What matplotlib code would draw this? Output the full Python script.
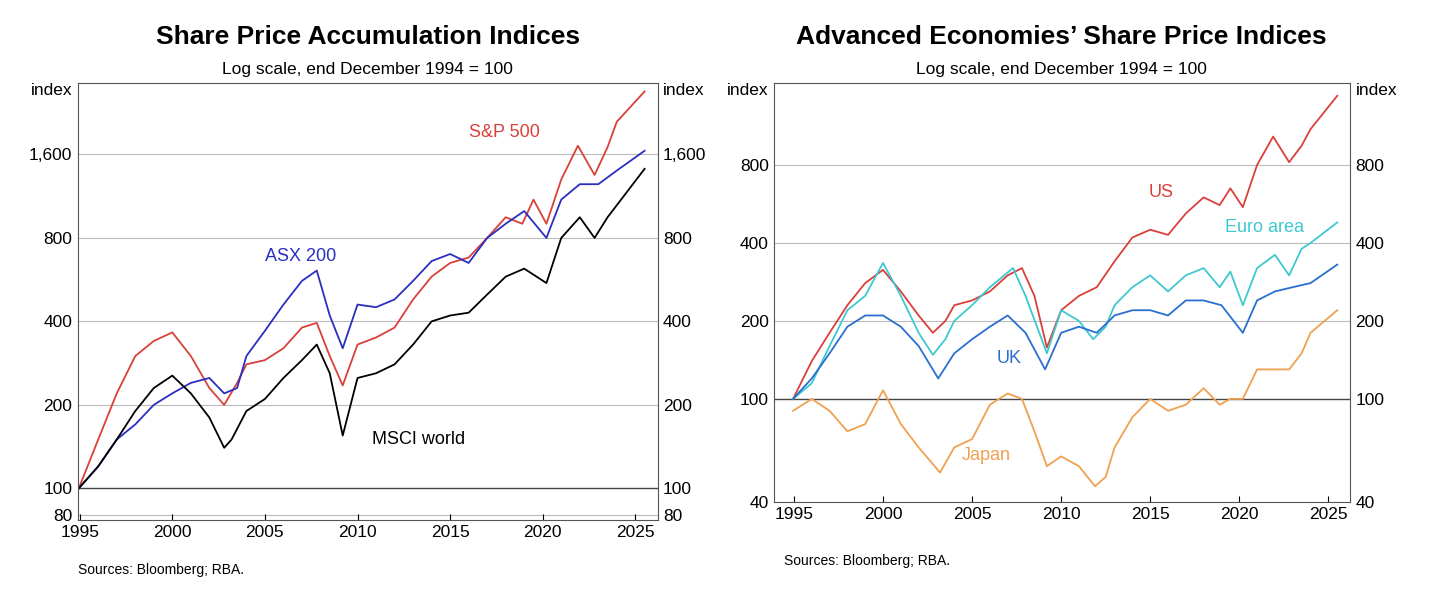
import matplotlib
matplotlib.use("Agg")
import matplotlib.pyplot as plt
from matplotlib.ticker import FixedLocator, NullLocator

plt.rcParams['font.family'] = ['Liberation Sans', 'DejaVu Sans']

# ---- Left chart data ----
sp_x = [1994.95,1996,1997,1998,1999,2000,2001,2002,2002.8,2003.5,2004,2005,2006,2007,2007.8,2008.5,2009.2,2010,2011,2012,2013,2014,2015,2016,2017,2018,2018.9,2019.5,2020.2,2021,2021.9,2022.8,2023.5,2024,2025.5]
sp_y = [100,150,220,300,340,365,300,230,200,240,280,290,320,380,395,300,235,330,350,380,480,580,650,680,800,950,900,1100,900,1300,1720,1350,1700,2100,2700]
asx_x = [1994.95,1996,1997,1998,1999,2000,2001,2002,2002.8,2003.5,2004,2005,2006,2007,2007.8,2008.5,2009.2,2010,2011,2012,2013,2014,2015,2016,2017,2018,2019,2020.2,2021,2022,2023,2024,2025.5]
asx_y = [100,120,150,170,200,220,240,250,220,230,300,370,460,560,610,420,320,460,450,480,560,660,700,650,800,900,1000,800,1100,1250,1250,1400,1650]
msci_x = [1994.95,1996,1997,1998,1999,2000,2001,2002,2002.8,2003.2,2004,2005,2006,2007,2007.8,2008.5,2009.2,2010,2011,2012,2013,2014,2015,2016,2017,2018,2019,2020.2,2021,2022,2022.8,2023.5,2024,2025.5]
msci_y = [100,120,150,190,230,255,220,180,140,150,190,210,250,290,330,260,155,250,260,280,330,400,420,430,500,580,620,550,800,950,800,950,1050,1420]

# ---- Right chart data ----
us_x = [1994.95,1996,1997,1998,1999,2000,2001,2002,2002.8,2003.5,2004,2005,2006,2007,2007.8,2008.5,2009.2,2010,2011,2012,2013,2014,2015,2016,2017,2018,2018.9,2019.5,2020.2,2021,2021.9,2022.8,2023.5,2024,2025.5]
us_y = [100,140,180,230,280,315,260,210,180,200,230,240,260,300,320,250,158,220,250,270,340,420,450,430,520,600,560,650,550,800,1030,820,950,1100,1480]
eu_x = [1994.95,1996,1997,1998,1999,2000,2001,2002,2002.8,2003.5,2004,2005,2006,2007.3,2008,2009.2,2010,2011,2011.8,2012.5,2013,2014,2015,2016,2017,2018,2018.9,2019.5,2020.2,2021,2022,2022.8,2023.5,2024,2025.5]
eu_y = [100,115,160,220,250,335,250,180,148,170,200,230,270,320,250,150,220,200,170,190,230,270,300,260,300,320,270,310,230,320,360,300,380,400,480]
uk_x = [1994.95,1996,1997,1998,1999,2000,2001,2002,2003.1,2004,2005,2006,2007,2008,2009.1,2010,2011,2012,2013,2014,2015,2016,2017,2018,2019,2020.2,2021,2022,2023,2024,2025.5]
uk_y = [100,120,150,190,210,210,190,160,120,150,170,190,210,180,130,180,190,180,210,220,220,210,240,240,230,180,240,260,270,280,330]
jp_x = [1994.95,1996,1997,1998,1999,2000,2001,2002,2003.2,2004,2005,2006,2007,2007.8,2008.5,2009.2,2010,2011,2011.9,2012.5,2013,2014,2015,2016,2017,2018,2018.9,2019.5,2020.2,2021,2022,2022.8,2023.5,2024,2025.5]
jp_y = [90,100,90,75,80,108,80,65,52,65,70,95,105,100,75,55,60,55,46,50,65,85,100,90,95,110,95,100,100,130,130,130,150,180,220]

year_ticks = [1995, 2000, 2005, 2010, 2015, 2020, 2025]

fig = plt.figure(figsize=(14.42, 5.92), dpi=100)

def style(ax, yt, labels, ylim, xlim):
    ax.set_yscale('log')
    ax.set_ylim(*ylim)
    ax.set_xlim(*xlim)
    ax.yaxis.set_major_locator(FixedLocator(yt))
    ax.yaxis.set_minor_locator(NullLocator())
    ax.set_yticklabels(labels)
    ax.tick_params(axis='y', length=0, labelsize=12.5, right=True, labelright=True, pad=4)
    ax.set_xticks(year_ticks)
    ax.set_xticklabels([str(t) for t in year_ticks])
    ax.tick_params(axis='x', direction='in', length=4, labelsize=12.5, top=False)
    for s in ax.spines.values():
        s.set_color('#555555'); s.set_linewidth(0.8)
    for v in yt:
        if v != 100 and v > ylim[0]:
            ax.axhline(v, color='#bbbbbb', lw=0.8, zorder=0)
    ax.axhline(100, color='#444444', lw=1.0, zorder=1)
    ax.text(-0.01, 1.0, 'index', transform=ax.transAxes, ha='right', va='top', fontsize=12.5)
    ax.text(1.01, 1.0, 'index', transform=ax.transAxes, ha='left', va='top', fontsize=12.5)

# Left
ax1 = fig.add_axes([0.054, 0.122, 0.402, 0.738])
ax1.plot(sp_x, sp_y, color='#d9403a', lw=1.3)
ax1.plot(asx_x, asx_y, color='#2a2fc0', lw=1.3)
ax1.plot(msci_x, msci_y, color='black', lw=1.3)
style(ax1, [80, 100, 200, 400, 800, 1600], ['80', '100', '200', '400', '800', '1,600'], (77, 2900), (1994.9, 2026.2))
ax1.text(2016.0, 1850, 'S&P 500', color='#d9403a', fontsize=13)
ax1.text(2005.0, 660, 'ASX 200', color='#2a2fc0', fontsize=13)
ax1.text(2010.8, 145, 'MSCI world', color='black', fontsize=13)
fig.text(0.255, 0.925, 'Share Price Accumulation Indices', ha='center', fontsize=19, fontweight='bold')
fig.text(0.255, 0.875, 'Log scale, end December 1994 = 100', ha='center', fontsize=12.5)
fig.text(0.054, 0.03, 'Sources: Bloomberg; RBA.', fontsize=10)

# Right
ax2 = fig.add_axes([0.537, 0.152, 0.399, 0.708])
ax2.plot(us_x, us_y, color='#d9403a', lw=1.3)
ax2.plot(eu_x, eu_y, color='#3ec8d0', lw=1.3)
ax2.plot(uk_x, uk_y, color='#2a6fd0', lw=1.3)
ax2.plot(jp_x, jp_y, color='#f0a050', lw=1.3)
style(ax2, [40, 100, 200, 400, 800], ['40', '100', '200', '400', '800'], (40, 1660), (1993.9, 2026.2))
ax2.text(2014.9, 600, 'US', color='#d9403a', fontsize=13)
ax2.text(2019.2, 440, 'Euro area', color='#3ec8d0', fontsize=13)
ax2.text(2006.4, 138, 'UK', color='#2a6fd0', fontsize=13)
ax2.text(2004.4, 58, 'Japan', color='#f0a050', fontsize=13)
fig.text(0.736, 0.925, 'Advanced Economies\u2019 Share Price Indices', ha='center', fontsize=19, fontweight='bold')
fig.text(0.736, 0.875, 'Log scale, end December 1994 = 100', ha='center', fontsize=12.5)
fig.text(0.544, 0.045, 'Sources: Bloomberg; RBA.', fontsize=10)

fig.savefig('out.png', dpi=100)
